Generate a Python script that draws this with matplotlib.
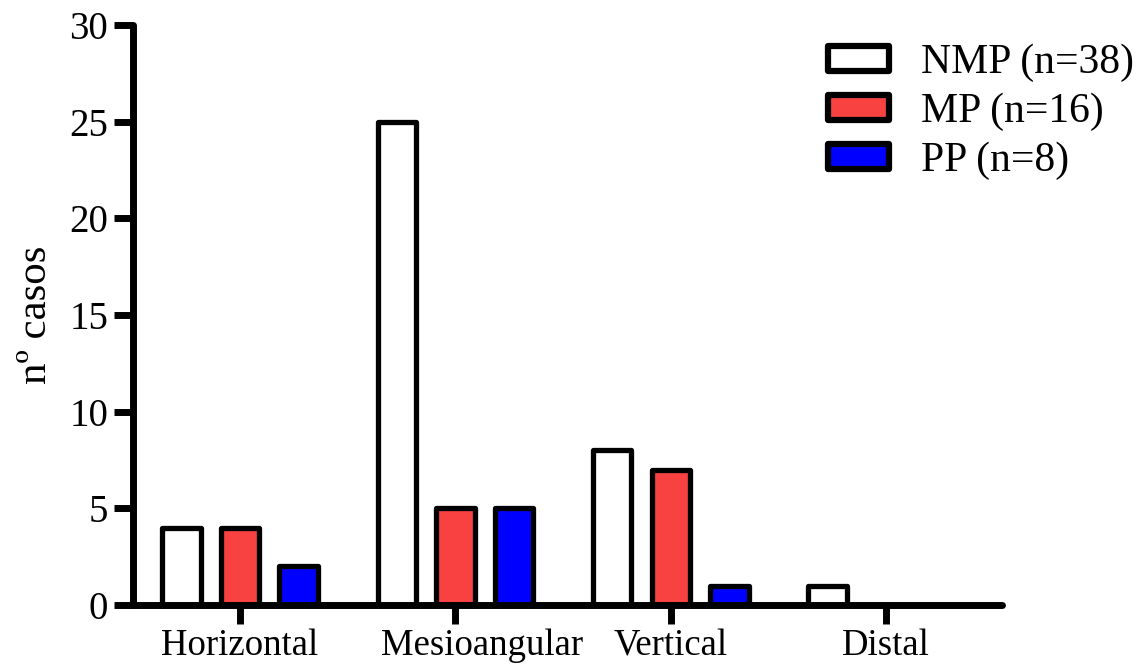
import matplotlib
matplotlib.use("Agg")
import matplotlib.pyplot as plt
import matplotlib.transforms as mtransforms
import numpy as np

categories = ["Horizontal", "Mesioangular", "Vertical", "Distal"]
series_names = ["NMP (n=38)", "MP (n=16)", "PP (n=8)"]
nmp = [4, 25, 8, 1]
mp = [4, 5, 7, 0]
pp = [2, 5, 1, 0]
colors = ["#ffffff", "#f84242", "#0000ff"]
yticks = [0, 5, 10, 15, 20, 25, 30]

plt.rcParams['font.family'] = ['Liberation Serif', 'DejaVu Serif']

fig = plt.figure(figsize=(11.42, 6.65), dpi=100)
ax = fig.add_axes([0.1165, 0.0902, 0.8774 - 0.1165, 0.9624 - 0.0902])

x = np.arange(len(categories))
offset = 0.272
width = 0.178
for i, (vals, c, name) in enumerate(zip([nmp, mp, pp], colors, series_names)):
    bars = ax.bar(x + (i - 1) * offset, vals, width, color=c, edgecolor="black",
                  linewidth=3.8, label=name, zorder=3)
    for b in bars:
        b.set_joinstyle("round")
        if b.get_height() == 0:
            b.set_visible(False)

ax.set_xlim(-0.497, 3.538)
ax.set_ylim(0, 30)
ax.set_yticks(yticks)
ax.set_xticks(x)
ax.set_xticklabels(categories)

for s in ["top", "right"]:
    ax.spines[s].set_visible(False)
for s in ["left", "bottom"]:
    ax.spines[s].set_linewidth(5)
    ax.spines[s].set_capstyle("round")
ax.spines["left"].set_zorder(4)
ax.spines["bottom"].set_zorder(4)

ax.tick_params(axis="y", length=14, width=5, labelsize=28, pad=4, direction="out")
ax.tick_params(axis="x", length=14, width=5, labelsize=26.5, pad=3, direction="out")
for t in ax.yaxis.get_major_ticks() + ax.xaxis.get_major_ticks():
    t.tick1line.set_solid_capstyle("round")
    t.tick1line.set_dash_capstyle("round")

# shift Mesioangular label right like the reference
lab = ax.get_xticklabels()[1]
lab.set_transform(lab.get_transform() + mtransforms.ScaledTranslation(0.27, 0, fig.dpi_scale_trans))

ax.set_ylabel("nº casos", fontsize=31, labelpad=10)

leg = ax.legend(loc="upper left", bbox_to_anchor=(0.707, 0.966), bbox_transform=fig.transFigure,
                frameon=False, fontsize=30, handlelength=1.45, handleheight=0.55,
                handletextpad=0.78, labelspacing=0.25, borderpad=0)
for p in leg.get_patches():
    p.set_linewidth(4.5)
    p.set_joinstyle("round")

fig.savefig("out.png", dpi=100)
